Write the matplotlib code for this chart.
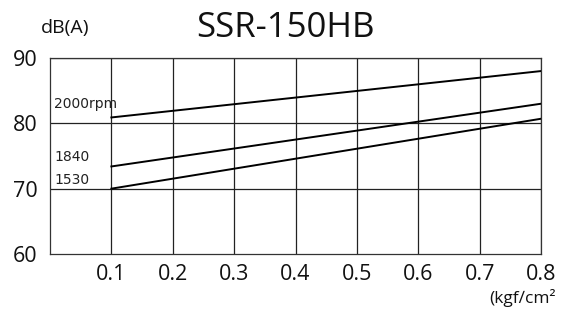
import matplotlib
matplotlib.use("Agg")
import matplotlib.pyplot as plt

plt.rcParams['font.family'] = ['Open Sans', 'DejaVu Sans']

pressure = [0.1, 0.8]
series_labels = ["2000rpm", "1840", "1530"]
series_values = [
    [80.9, 88.0],
    [73.4, 83.0],
    [70.0, 80.7],
]
label_y = [83.0, 74.9, 71.4]
xticks = [0.1, 0.2, 0.3, 0.4, 0.5, 0.6, 0.7, 0.8]
yticks = [60, 70, 80, 90]

fig = plt.figure(figsize=(5.72, 3.25), dpi=100)
ax = fig.add_axes([50/572, 71/325, 491/572, 196/325])
ax.set_xlim(0, 0.8)
ax.set_ylim(60, 90)

for x in xticks:
    ax.axvline(x, color='#222222', lw=0.9, zorder=1)
for y in yticks[1:]:
    ax.axhline(y, color='#222222', lw=0.9, zorder=1)

for vals in series_values:
    ax.plot(pressure, vals, color='black', lw=1.4, zorder=3)

for lab, ly in zip(series_labels, label_y):
    ax.text(0.007, ly, lab, fontsize=10, color='#222222', va='center', ha='left',
            family=['DejaVu Sans'])

for s in ax.spines.values():
    s.set_color('#333333')
    s.set_linewidth(0.9)

ax.set_xticks(xticks)
ax.set_xticklabels([f"{v:.1f}" for v in xticks])
ax.set_yticks(yticks)
ax.set_yticklabels([str(v) for v in yticks])
ax.tick_params(length=0, labelsize=15.5, colors='#111111')
ax.tick_params(axis='x', pad=7)
ax.tick_params(axis='y', pad=9)

fig.text(285/572, 1 - 28/325, "SSR-150HB", fontsize=25, ha='center', va='center', color='#111111')
fig.text(65/572, 1 - 28/325, "dB(A)", fontsize=14, ha='center', va='center', color='#111111')
fig.text(522/572, 1 - 298/325, "(kgf\u2215cm\u00b2", fontsize=12.5, ha='center', va='center', color='#111111')

fig.savefig("out.png", dpi=100)
